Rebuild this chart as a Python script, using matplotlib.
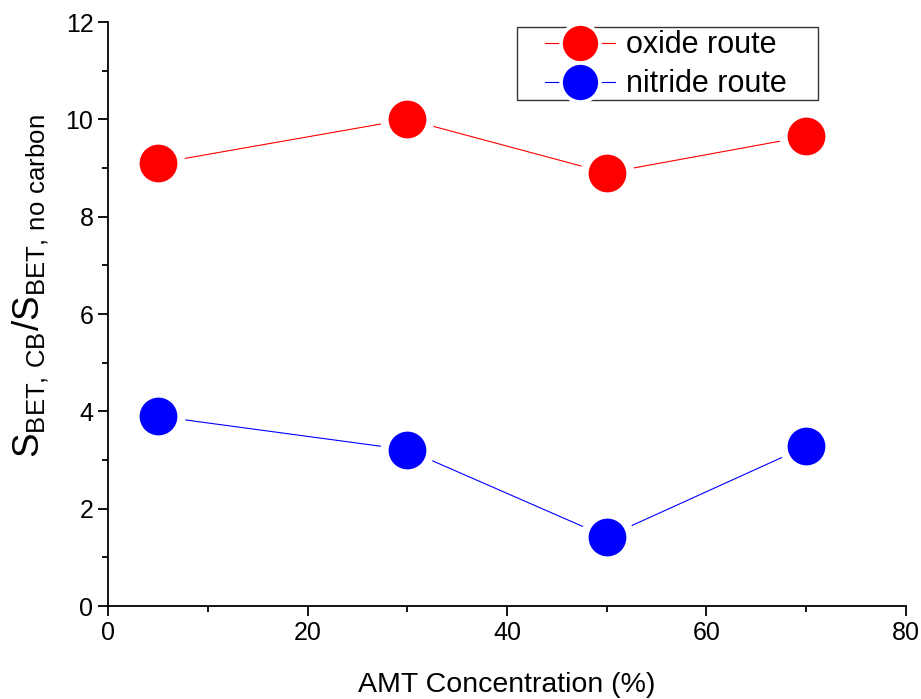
import matplotlib
matplotlib.use("Agg")
import matplotlib.pyplot as plt
from matplotlib.lines import Line2D
from matplotlib.patches import Rectangle
from matplotlib.ticker import MultipleLocator

plt.rcParams['font.family'] = ['Liberation Sans', 'DejaVu Sans']

conc = [5, 30, 50, 70]
oxide = [9.1, 10.0, 8.9, 9.65]
nitride = [3.9, 3.21, 1.42, 3.28]

fig = plt.figure(figsize=(9.21, 6.99), dpi=100)
ax = fig.add_axes([0.1173, 0.133, 0.8664, 0.8355])

ax.plot(conc, oxide, color="red", lw=0.8, marker="o", ms=33, mfc="red",
        mec="white", mew=5.8)
ax.plot(conc, nitride, color="blue", lw=0.8, marker="o", ms=33, mfc="blue",
        mec="white", mew=5.8)

ax.set_xlim(0, 80)
ax.set_ylim(0, 12)
ax.xaxis.set_major_locator(MultipleLocator(20))
ax.xaxis.set_minor_locator(MultipleLocator(10))
ax.yaxis.set_major_locator(MultipleLocator(2))
ax.yaxis.set_minor_locator(MultipleLocator(1))
ax.spines["top"].set_visible(False)
ax.spines["right"].set_visible(False)
for s in ("left", "bottom"):
    ax.spines[s].set_linewidth(1.3)
ax.tick_params(which="major", direction="out", length=7, width=1.3, labelsize=18)
ax.tick_params(which="minor", direction="out", length=4, width=1.3)

ax.set_xlabel("AMT Concentration (%)", fontsize=20.5, labelpad=20)
ax.set_ylabel(r"$\mathregular{S_{BET{,}\ CB}/S_{BET{,}\ no\ carbon}}$", fontsize=26.5)
ax.yaxis.set_label_coords(-0.071, 0.548)

# legend: handles with a thin white ring so the line shows a gap
h_ox = Line2D([], [], color="red", lw=0.8, marker="o", ms=28, mfc="red",
              mec="white", mew=2.6)
h_ni = Line2D([], [], color="blue", lw=0.8, marker="o", ms=28, mfc="blue",
              mec="white", mew=2.6)
leg = ax.legend([h_ox, h_ni], ["oxide route", "nitride route"],
                loc="upper left", bbox_to_anchor=(0.5476, 0.986), fontsize=22,
                frameon=False, handlelength=2.3, borderpad=0.0,
                labelspacing=0.3, handletextpad=0.35, borderaxespad=0.0)
box = Rectangle((0.5125, 0.866), 0.377, 0.125, transform=ax.transAxes,
                fill=False, edgecolor="#333333", lw=1.0, clip_on=False)
ax.add_patch(box)

fig.savefig("out.png", dpi=100)
